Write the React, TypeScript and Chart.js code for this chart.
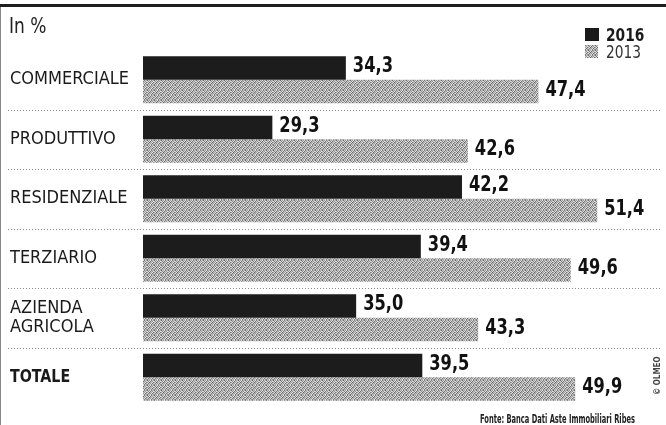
import React, { useEffect, useRef } from "react";
import { Chart, registerables } from "chart.js";

Chart.register(...registerables);

const categories: (string | string[])[] = [
  "COMMERCIALE",
  "PRODUTTIVO",
  "RESIDENZIALE",
  "TERZIARIO",
  ["AZIENDA", "AGRICOLA"],
  "TOTALE",
];
const values2016 = [34.3, 29.3, 42.2, 39.4, 35.0, 39.5];
const values2013 = [47.4, 42.6, 51.4, 49.6, 43.3, 49.9];
const seriesLabels = ["2016", "2013"];
const unitLabel = "In %";
const sourceText = "Fonte: Banca Dati Aste Immobiliari Ribes";
const creditText = "© OLMEO";

const NARROW = '"Liberation Sans Narrow", "DejaVu Sans Condensed", "Liberation Sans", sans-serif';

function makePattern(ctx: CanvasRenderingContext2D): CanvasPattern | string {
  const c = document.createElement("canvas");
  c.width = 7;
  c.height = 5;
  const p = c.getContext("2d");
  if (!p) return "#aaa";
  const shades = [
    [105, 195, 160, 220, 125, 190, 175],
    [210, 135, 225, 115, 200, 150, 220],
    [165, 220, 100, 185, 165, 225, 120],
    [215, 120, 195, 150, 225, 110, 190],
    [130, 185, 170, 220, 125, 200, 155],
  ];
  for (let y = 0; y < shades.length; y++) {
    for (let x = 0; x < shades[y].length; x++) {
      const v = shades[y][x];
      p.fillStyle = `rgb(${v},${v},${v})`;
      p.fillRect(x, y, 1, 1);
    }
  }
  return ctx.createPattern(c, "repeat") || "#aaa";
}

export default function App() {
  const canvasRef = useRef<HTMLCanvasElement | null>(null);

  useEffect(() => {
    const canvas = canvasRef.current;
    if (!canvas) return;
    const ctx = canvas.getContext("2d")!;
    const pattern = makePattern(ctx);

    const condensedText = (c: CanvasRenderingContext2D, txt: string, x: number, y: number, sx: number) => {
      c.save();
      c.translate(x, y);
      c.scale(sx, 1);
      c.fillText(txt, 0, 0);
      c.restore();
    };

    const decorPlugin = {
      id: "decor",
      beforeDraw(chart: any) {
        const c = chart.ctx;
        c.save();
        c.fillStyle = "#ffffff";
        c.fillRect(0, 0, chart.width, chart.height);
        c.fillStyle = "#1e1e1e";
        c.fillRect(0, 4, chart.width, 3);
        c.fillStyle = "#888";
        c.fillRect(0, 7, 1, chart.height - 7);
        const ys = chart.scales.y;
        c.strokeStyle = "#8a8a8a";
        c.lineWidth = 1;
        c.setLineDash([1, 2]);
        for (let i = 0; i < categories.length - 1; i++) {
          const y = Math.round((ys.getPixelForValue(i) + ys.getPixelForValue(i + 1)) / 2) + 0.5;
          c.beginPath();
          c.moveTo(8, y);
          c.lineTo(662, y);
          c.stroke();
        }
        c.setLineDash([]);
        c.restore();
      },
      afterDraw(chart: any) {
        const c = chart.ctx;
        const ys = chart.scales.y;
        c.save();
        c.fillStyle = "#1a1a1a";
        c.textBaseline = "middle";
        c.textAlign = "left";
        categories.forEach((cat, i) => {
          const cy = ys.getPixelForValue(i);
          const bold = i === categories.length - 1;
          c.font = `${bold ? "bold " : ""}18px ${NARROW}`;
          const lines = Array.isArray(cat) ? cat : [cat];
          const lh = 19;
          lines.forEach((ln, k) => {
            const y = cy + (k - (lines.length - 1) / 2) * lh;
            if (bold) condensedText(c, ln, 10, y, 0.88);
            else c.fillText(ln, 10, y);
          });
        });
        c.font = `bold 21px ${NARROW}`;
        c.fillStyle = "#111";
        chart.data.datasets.forEach((ds: any, di: number) => {
          const meta = chart.getDatasetMeta(di);
          meta.data.forEach((el: any, i: number) => {
            const v = ds.data[i] as number;
            const txt = v.toFixed(1).replace(".", ",");
            condensedText(c, txt, el.x + 7, el.y - 1, 0.86);
          });
        });
        c.font = `21px ${NARROW}`;
        c.fillStyle = "#222";
        c.textBaseline = "alphabetic";
        condensedText(c, unitLabel, 9, 33, 0.9);
        c.fillStyle = "#1a1a1a";
        c.fillRect(585, 28, 14, 13);
        c.font = `bold 17px ${NARROW}`;
        condensedText(c, seriesLabels[0], 606, 41, 0.9);
        c.fillStyle = pattern as any;
        c.fillRect(585, 45, 13, 13);
        c.fillStyle = "#333";
        c.font = `17px ${NARROW}`;
        condensedText(c, seriesLabels[1], 606, 58, 0.9);
        c.font = `bold 12px ${NARROW}`;
        c.fillStyle = "#222";
        c.textAlign = "left";
        const w = c.measureText(sourceText).width;
        const sx = 155 / w;
        condensedText(c, sourceText, 480, 423, sx);
        c.translate(660, 395);
        c.rotate(-Math.PI / 2);
        c.font = `bold 8px ${NARROW}`;
        c.fillStyle = "#444";
        c.fillText(creditText, 0, 0);
        c.restore();
      },
    };

    const chart = new Chart(canvas, {
      type: "bar",
      data: {
        labels: categories as any,
        datasets: [
          {
            label: seriesLabels[0],
            data: values2016,
            backgroundColor: "#1c1c1c",
            barPercentage: 1,
            categoryPercentage: 0.79,
          },
          {
            label: seriesLabels[1],
            data: values2013,
            backgroundColor: pattern as any,
            barPercentage: 1,
            categoryPercentage: 0.79,
          },
        ],
      },
      options: {
        indexAxis: "y",
        animation: false,
        responsive: false,
        maintainAspectRatio: false,
        layout: { padding: { left: 143, right: 6, top: 50, bottom: 18 } },
        plugins: {
          legend: { display: false },
          tooltip: { enabled: false },
          title: { display: false },
        },
        scales: {
          x: { display: false, min: 20.5, max: 55.67, grid: { display: false } },
          y: { display: false, grid: { display: false } },
        },
      },
      plugins: [decorPlugin],
    });
    return () => chart.destroy();
  }, []);

  return (
    <div style={{ position: "fixed", left: 0, top: 0, width: 666, height: 425, background: "#fff" }}>
      <canvas ref={canvasRef} width={666} height={425} style={{ display: "block", width: 666, height: 425 }} />
    </div>
  );
}
